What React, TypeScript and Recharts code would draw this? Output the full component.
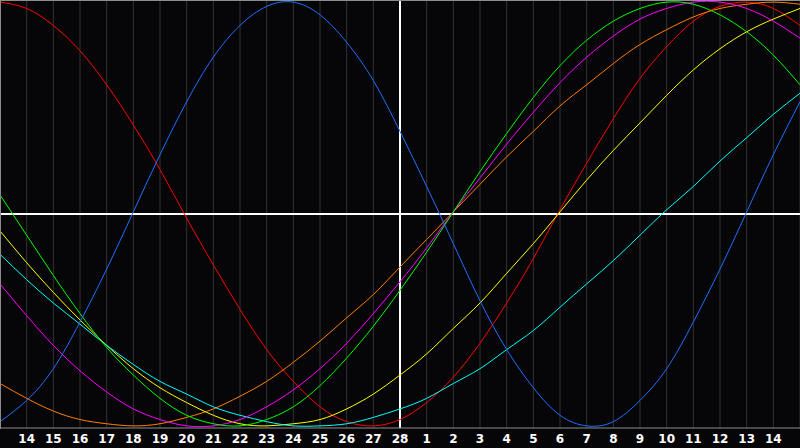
import { CartesianGrid, Line, LineChart, ReferenceLine, XAxis, YAxis } from 'recharts'

// day labels, one per column (first and last sit on the chart edges and are not printed)
const DAYS = [
  '13', '14', '15', '16', '17', '18', '19', '20', '21', '22', '23', '24', '25', '26', '27', '28',
  '1', '2', '3', '4', '5', '6', '7', '8', '9', '10', '11', '12', '13', '14', '15',
]

const TODAY = 15

const RED = [
  1.0, 0.97, 0.89, 0.77, 0.61, 0.42, 0.21, -0.02, -0.24, -0.45, -0.64, -0.79, -0.91, -0.98, -1.0, -0.97,
  -0.89, -0.77, -0.61, -0.42, -0.21, 0.02, 0.24, 0.45, 0.64, 0.79, 0.91, 0.98, 1.0, 0.97, 0.89,
]
const BLUE = [
  -0.98, -0.88, -0.73, -0.51, -0.26, 0.01, 0.28, 0.53, 0.74, 0.89, 0.98, 1.0, 0.94, 0.81, 0.63, 0.39,
  0.13, -0.14, -0.41, -0.64, -0.82, -0.95, -1.0, -0.98, -0.88, -0.73, -0.51, -0.26, 0.01, 0.28, 0.53,
]
const GREEN = [
  0.09, -0.1, -0.29, -0.47, -0.63, -0.76, -0.87, -0.95, -0.99, -1.0, -0.97, -0.91, -0.81, -0.68, -0.53, -0.36,
  -0.18, 0.01, 0.2, 0.38, 0.55, 0.7, 0.82, 0.91, 0.97, 1.0, 0.99, 0.94, 0.86, 0.75, 0.61,
]
const MAGENTA = [
  -0.33, -0.48, -0.62, -0.74, -0.84, -0.92, -0.97, -1.0, -1.0, -0.97, -0.91, -0.83, -0.73, -0.61, -0.47, -0.32,
  -0.16, 0.01, 0.17, 0.33, 0.48, 0.62, 0.74, 0.84, 0.92, 0.97, 1.0, 1.0, 0.97, 0.91, 0.83,
]
const ORANGE = [
  -0.8, -0.87, -0.93, -0.97, -0.99, -1.0, -0.99, -0.96, -0.92, -0.86, -0.79, -0.7, -0.6, -0.49, -0.38, -0.25,
  -0.12, 0.01, 0.14, 0.27, 0.39, 0.51, 0.61, 0.71, 0.8, 0.87, 0.93, 0.97, 0.99, 1.0, 0.99,
]
const YELLOW = [
  -0.08, -0.23, -0.37, -0.5, -0.62, -0.73, -0.82, -0.89, -0.95, -0.99, -1.0, -0.99, -0.97, -0.92, -0.85, -0.76,
  -0.66, -0.54, -0.42, -0.28, -0.14, 0.01, 0.16, 0.3, 0.43, 0.56, 0.68, 0.78, 0.86, 0.92, 0.97,
]
const CYAN = [
  -0.19, -0.31, -0.42, -0.52, -0.62, -0.71, -0.79, -0.85, -0.91, -0.95, -0.98, -1.0, -1.0, -0.99, -0.96, -0.92,
  -0.87, -0.8, -0.73, -0.64, -0.55, -0.44, -0.33, -0.22, -0.1, 0.02, 0.13, 0.25, 0.36, 0.47, 0.57,
]

const SERIES = [
  { key: 'red', values: RED, color: '#ff0000' },
  { key: 'orange', values: ORANGE, color: '#ff8000' },
  { key: 'yellow', values: YELLOW, color: '#ffff00' },
  { key: 'cyan', values: CYAN, color: '#00ffff' },
  { key: 'magenta', values: MAGENTA, color: '#ff00ff' },
  { key: 'green', values: GREEN, color: '#00ff00' },
  { key: 'blue', values: BLUE, color: '#1f6fff' },
]

const data = DAYS.map((day, i) => {
  const row: Record<string, number | string> = { i, day }
  SERIES.forEach((s) => {
    row[s.key] = s.values[i]
  })
  return row
})

const ticks = DAYS.map((_, i) => i).slice(1, -1)

export default function App() {
  return (
    <div style={{ position: 'relative', width: 800, height: 448, background: '#060608' }}>
      <style>{'body{margin:0;background:#060608}'}</style>
      <LineChart width={800} height={448} data={data} margin={{ top: 0, right: 0, bottom: 0, left: 0 }}>
        <CartesianGrid vertical horizontal={false} stroke="#333333" />
        <XAxis
          dataKey="i"
          type="number"
          domain={[0, 30]}
          ticks={ticks}
          tickFormatter={(v) => DAYS[v]}
          interval={0}
          height={20}
          tickLine={false}
          tickSize={0}
          tickMargin={6}
          axisLine={{ stroke: '#8c8c8c' }}
          tick={{ fill: '#ffffff', fontSize: 12, fontWeight: 'bold', fontFamily: 'DejaVu Sans' }}
        />
        <YAxis hide domain={[-1.01, 1.01]} />
        <ReferenceLine y={0} stroke="#ffffff" strokeWidth={2} />
        <ReferenceLine x={TODAY} stroke="#ffffff" strokeWidth={2} />
        {SERIES.map((s) => (
          <Line
            key={s.key}
            dataKey={s.key}
            type="natural"
            stroke={s.color}
            strokeWidth={1}
            dot={false}
            activeDot={false}
            isAnimationActive={false}
          />
        ))}
      </LineChart>
      <div
        style={{
          position: 'absolute',
          left: 0,
          top: 0,
          width: 799,
          height: 428,
          borderTop: '1px solid #8c8c8c',
          borderLeft: '1px solid #8c8c8c',
          pointerEvents: 'none',
        }}
      />
    </div>
  )
}
